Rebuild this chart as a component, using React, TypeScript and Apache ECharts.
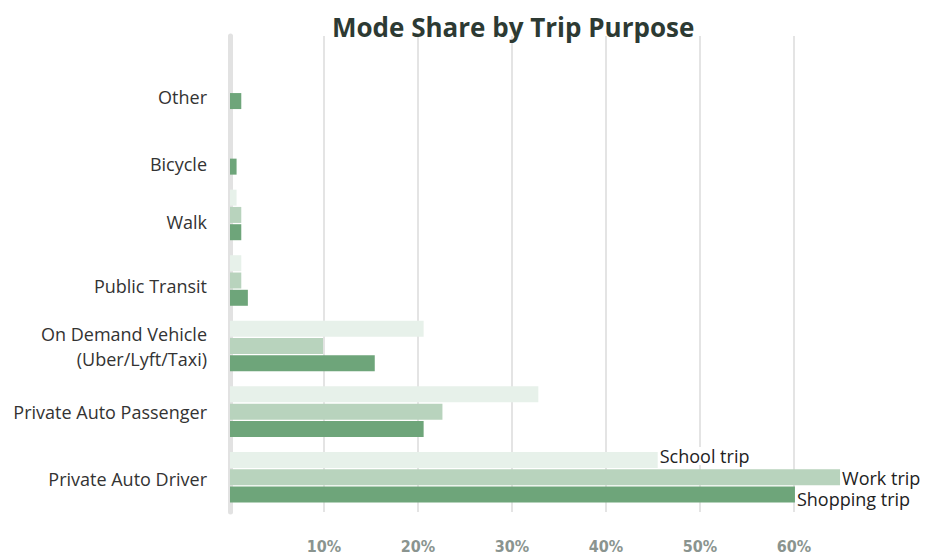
import React, { useEffect, useRef } from "react";
import * as echarts from "echarts";

const categories = [
  "Private Auto Driver",
  "Private Auto Passenger",
  "On Demand Vehicle\n(Uber/Lyft/Taxi)",
  "Public Transit",
  "Walk",
  "Bicycle",
  "Other",
];
const seriesNames = ["School trip", "Work trip", "Shopping trip"];
const schoolTrip = [45.5, 32.8, 20.6, 1.2, 0.7, 0, 0];
const workTrip = [64.9, 22.6, 9.9, 1.2, 1.2, 0, 0];
const shoppingTrip = [60.1, 20.6, 15.4, 1.9, 1.2, 0.7, 1.2];
const tickValues = [10, 20, 30, 40, 50, 60];
const colors = ["#e7f1ea", "#b8d3bd", "#6ea57a"];
// vertical nudge (px) of each category label, as in the reference
const labelShift = [2, 0, 0, 5, 7, 15, 13];

export default function App() {
  const ref = useRef<HTMLDivElement>(null);
  useEffect(() => {
    if (!ref.current) return;
    document.body.style.margin = "0";
    const chart = echarts.init(ref.current, undefined, { renderer: "svg" });
    const values = [schoolTrip, workTrip, shoppingTrip];
    const offsets = [[0, -4], [0, 1], [0, 5]];
    const series: any[] = values.map((vals, si) => ({
      name: seriesNames[si],
      type: "bar",
      xAxisIndex: 0,
      yAxisIndex: 0,
      barWidth: 16,
      barGap: "8%",
      itemStyle: { color: colors[si] },
      z: 3,
      data: vals.map((v, i) =>
        i === 0
          ? {
              value: v,
              label: {
                show: true,
                position: "right",
                distance: 2,
                offset: offsets[si],
                formatter: seriesNames[si],
                color: "#222",
                fontFamily: "Open Sans",
                fontSize: 18,
                backgroundColor: "#fff",
                padding: [0, 1, 0, 0],
              },
            }
          : v
      ),
    }));
    series.push({
      type: "bar",
      xAxisIndex: 1,
      yAxisIndex: 1,
      data: [],
      silent: true,
    });
    const rich: any = {};
    labelShift.forEach((d, i) => {
      rich["s" + i] = {
        color: "#333",
        fontFamily: "Open Sans",
        fontSize: 18,
        lineHeight: 25,
        align: "right",
        padding: [Math.max(0, 2 * d), 0, Math.max(0, -2 * d), 0],
      };
    });
    chart.setOption({
      animation: false,
      backgroundColor: "#fff",
      title: {
        text: "Mode Share by Trip Purpose",
        left: 327,
        top: 9,
        textStyle: {
          fontFamily: "Open Sans",
          fontWeight: "bold",
          fontSize: 26,
          color: "#2d3a33",
        },
      },
      grid: [
        { left: 230, right: 37, top: 51, bottom: 46, containLabel: false },
        { left: 230, right: 37, top: 36, bottom: 44, containLabel: false },
      ],
      xAxis: [
        {
          gridIndex: 0,
          type: "value",
          min: 0,
          max: 70,
          interval: 10,
          show: false,
        },
        {
          gridIndex: 1,
          type: "value",
          min: 0,
          max: 70,
          interval: 10,
          axisLine: { show: false },
          axisTick: { show: false },
          splitLine: {
            show: true,
            showMinLine: false,
            showMaxLine: false,
            lineStyle: { color: "#e4e4e4", width: 2 },
          },
          axisLabel: {
            margin: 26,
            color: "#8a948f",
            fontFamily: "DejaVu Sans Condensed",
            fontWeight: "bold",
            fontSize: 16,
            formatter: (v: number) => (tickValues.includes(v) ? v + "%" : ""),
          },
        },
      ],
      yAxis: [
        {
          gridIndex: 0,
          type: "category",
          data: categories,
          axisLine: { show: false },
          axisTick: { show: false },
          axisLabel: {
            margin: 23,
            align: "right",
            formatter: (v: string, i: number) =>
              v
                .split("\n")
                .map((line) => `{s${i}|${line}}`)
                .join("\n"),
            rich,
          },
        },
        {
          gridIndex: 1,
          type: "category",
          data: [""],
          axisLine: { show: true, lineStyle: { color: "#e2e2e2", width: 5 } },
          axisTick: { show: false },
          axisLabel: { show: false },
        },
      ],
      series,
    });
    return () => chart.dispose();
  }, []);
  return <div ref={ref} style={{ width: 925, height: 556 }} />;
}
